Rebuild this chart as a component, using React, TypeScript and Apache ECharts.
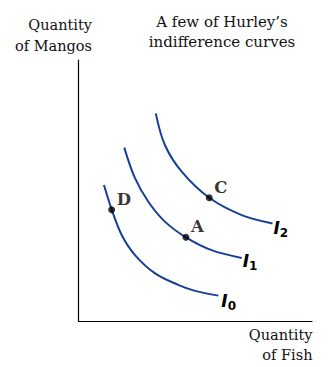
import React, { useEffect, useRef } from "react";
import * as echarts from "echarts";

// Indifference curves (x = fish, y = mangos, axis units 0..10)
const curveI0: [number, number][] = [
  [1.09, 5.22], [1.42, 4.29], [1.85, 3.31], [2.42, 2.54], [3.28, 1.84],
  [4.27, 1.40], [4.99, 1.17], [5.99, 0.99],
];
const curveI1: [number, number][] = [
  [1.96, 6.65], [2.42, 5.48], [2.99, 4.58], [3.70, 3.82], [4.60, 3.22],
  [5.70, 2.73], [6.99, 2.43],
];
const curveI2: [number, number][] = [
  [3.31, 7.96], [3.70, 6.75], [4.42, 5.73], [5.60, 4.73], [6.99, 4.07],
  [8.31, 3.75],
];
const curveNames = ["0", "1", "2"];
const pointNames = ["D", "A", "C"];
const pointValues: [number, number][] = [
  [1.42, 4.27],
  [4.60, 3.22],
  [5.60, 4.73],
];
const yAxisTitle = "Quantity\nof Mangos";
const xAxisTitle = "Quantity\nof Fish";
const chartTitle = "A few of Hurley\u2019s\nindifference curves";

const BLUE = "#163f98";
const SERIF = "'DejaVu Serif', serif";

export default function App() {
  const ref = useRef<HTMLDivElement>(null);
  useEffect(() => {
    if (!ref.current) return;
    const chart = echarts.init(ref.current, null, { renderer: "svg" });
    const curves = [curveI0, curveI1, curveI2];
    const labelOffsets = [
      [0, 5],
      [-2, 3],
      [-2, 5],
    ];
    chart.setOption({
      animation: false,
      grid: { left: 78.5, right: 17, top: 60, bottom: 45.5, containLabel: false },
      xAxis: {
        type: "value",
        min: 0,
        max: 10,
        axisLine: { show: true, lineStyle: { color: "#000", width: 1.2 } },
        axisTick: { show: false },
        axisLabel: { show: false },
        splitLine: { show: false },
      },
      yAxis: {
        type: "value",
        min: 0,
        max: 10,
        axisLine: { show: true, lineStyle: { color: "#000", width: 1.2 } },
        axisTick: { show: false },
        axisLabel: { show: false },
        splitLine: { show: false },
      },
      series: [
        ...curves.map((data, i) => ({
          type: "line",
          data,
          smooth: 0.35,
          showSymbol: false,
          symbol: "none",
          lineStyle: { color: BLUE, width: 2 },
          z: 2,
          endLabel: {
            show: true,
            distance: 3,
            offset: labelOffsets[i],
            formatter: `{i|I}{s|${curveNames[i]}}`,
            rich: {
              i: {
                fontFamily: "'DejaVu Sans', sans-serif",
                fontWeight: "bold",
                fontStyle: "italic",
                fontSize: 17,
                color: "#000",
                lineHeight: 22,
              },
              s: {
                fontFamily: "'DejaVu Sans', sans-serif",
                fontWeight: "bold",
                fontSize: 12,
                color: "#000",
                lineHeight: 22,
                padding: [10, 0, 0, 0],
              },
            },
          },
        })),
        {
          type: "scatter",
          data: pointValues.map((v, i) => ({ value: v, name: pointNames[i] })),
          symbol: "circle",
          symbolSize: 7,
          itemStyle: { color: "#000" },
          z: 5,
          label: {
            show: true,
            position: "right",
            distance: 1.5,
            offset: [0, -10.5],
            formatter: (p: any) => p.name,
            fontFamily: SERIF,
            fontWeight: "bold",
            fontSize: 16.5,
            color: "#000",
          },
        },
      ],
      graphic: [
        {
          type: "text",
          x: 92,
          y: 35,
          style: {
            text: yAxisTitle,
            fontFamily: SERIF,
            fontSize: 14.5,
            lineHeight: 21,
            fill: "#111",
            align: "right",
            verticalAlign: "middle",
          },
        },
        {
          type: "text",
          x: 222,
          y: 32,
          style: {
            text: chartTitle,
            fontFamily: SERIF,
            fontSize: 15,
            lineHeight: 20.5,
            fill: "#111",
            align: "center",
            verticalAlign: "middle",
          },
        },
        {
          type: "text",
          x: 312.5,
          y: 345,
          style: {
            text: xAxisTitle,
            fontFamily: SERIF,
            fontSize: 14.5,
            lineHeight: 20.5,
            fill: "#111",
            align: "right",
            verticalAlign: "middle",
          },
        },
      ],
    });
    return () => chart.dispose();
  }, []);
  return (
    <div
      ref={ref}
      style={{ position: "fixed", left: 0, top: 0, width: 329, height: 367, background: "#fff" }}
    />
  );
}
